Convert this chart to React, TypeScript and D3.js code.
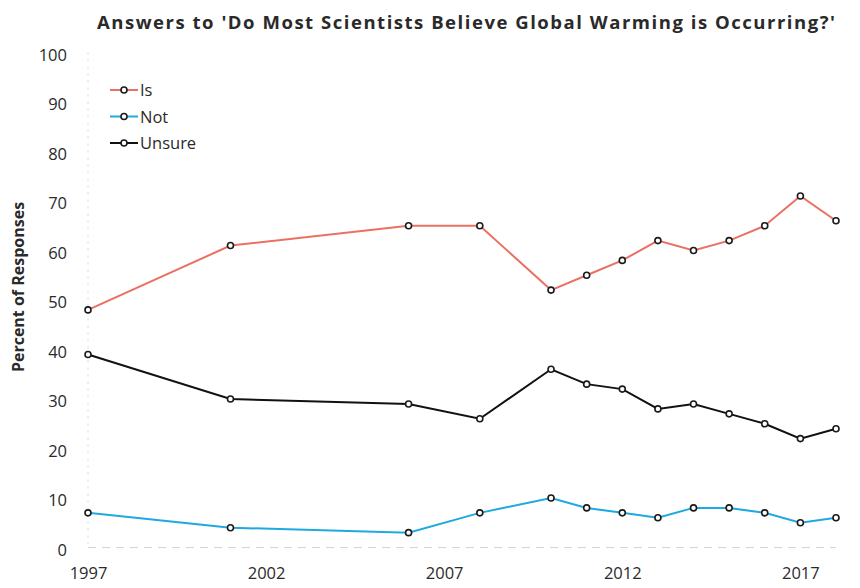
import React, { useEffect, useRef } from 'react';
import * as d3 from 'd3';

const years = [1997, 2001, 2006, 2008, 2010, 2011, 2012, 2013, 2014, 2015, 2016, 2017, 2018];
const isValues = [48, 61, 65, 65, 52, 55, 58, 62, 60, 62, 65, 71, 66];
const notValues = [7, 4, 3, 7, 10, 8, 7, 6, 8, 8, 7, 5, 6];
const unsureValues = [39, 30, 29, 26, 36, 33, 32, 28, 29, 27, 25, 22, 24];
const xTicks = [1997, 2002, 2007, 2012, 2017];
const yTicks = [0, 10, 20, 30, 40, 50, 60, 70, 80, 90, 100];

const series = [
  { name: 'Is', values: isValues, color: '#ea7062' },
  { name: 'Not', values: notValues, color: '#1ea9e1' },
  { name: 'Unsure', values: unsureValues, color: '#111111' },
];

const W = 860;
const H = 588;
const FONT = '"Open Sans", Lato, sans-serif';

export default function App() {
  const ref = useRef<SVGSVGElement>(null);

  useEffect(() => {
    const svg = d3.select(ref.current);
    svg.selectAll('*').remove();

    const x = d3.scaleLinear().domain([1997, 2018]).range([88, 836]);
    const y = d3.scaleLinear().domain([0, 100]).range([547.5, 52.5]);

    svg.append('rect').attr('width', W).attr('height', H).attr('fill', '#fff');

    // title
    svg.append('text')
      .attr('x', 466).attr('y', 29)
      .attr('text-anchor', 'middle')
      .attr('font-family', FONT).attr('font-weight', 700).attr('font-size', 18.5)
      .attr('fill', '#2a2a2a')
      .attr('textLength', 738).attr('lengthAdjust', 'spacing')
      .text("Answers to 'Do Most Scientists Believe Global Warming is Occurring?'");

    // faint axis lines (scanned look)
    svg.append('line')
      .attr('x1', x(1997)).attr('x2', x(1997))
      .attr('y1', y(100)).attr('y2', y(0))
      .attr('stroke', '#c4dcea').attr('stroke-width', 1)
      .attr('stroke-dasharray', '2 5');
    svg.append('line')
      .attr('x1', x(1997)).attr('x2', x(2018))
      .attr('y1', y(0)).attr('y2', y(0))
      .attr('stroke', '#d4d4d4').attr('stroke-width', 1.2)
      .attr('stroke-dasharray', '8 6');

    // y axis
    const yAxis = svg.append('g')
      .attr('transform', 'translate(67,2.5)')
      .call(d3.axisLeft(y).tickValues(yTicks).tickSize(0).tickPadding(0));
    yAxis.select('.domain').remove();
    yAxis.selectAll('text')
      .attr('font-family', FONT).attr('font-size', 16.5).attr('fill', '#2a2a2a');

    // x axis
    const xAxis = svg.append('g')
      .attr('transform', `translate(0,${y(0) + 20})`)
      .call(d3.axisBottom(x).tickValues(xTicks).tickFormat(d3.format('d')).tickSize(0).tickPadding(0));
    xAxis.select('.domain').remove();
    xAxis.selectAll('text')
      .attr('font-family', FONT).attr('font-size', 16.5).attr('fill', '#2a2a2a');

    // y label
    svg.append('text')
      .attr('transform', 'translate(24,287) rotate(-90)')
      .attr('text-anchor', 'middle')
      .attr('font-family', FONT).attr('font-weight', 700).attr('font-size', 16)
      .attr('fill', '#2a2a2a')
      .text('Percent of Responses');

    const line = d3.line<number>()
      .x((_, i) => x(years[i]))
      .y((d) => y(d));

    series.forEach((s) => {
      svg.append('path')
        .attr('d', line(s.values))
        .attr('fill', 'none')
        .attr('stroke', s.color)
        .attr('stroke-width', 2);
      svg.append('g').selectAll('circle')
        .data(s.values)
        .join('circle')
        .attr('cx', (_, i) => x(years[i]))
        .attr('cy', (d) => y(d))
        .attr('r', 3)
        .attr('fill', '#fff')
        .attr('stroke', '#1a1a1a')
        .attr('stroke-width', 1.6);
    });

    // legend
    const legend = svg.append('g').attr('transform', 'translate(110,90)');
    series.forEach((s, i) => {
      const g = legend.append('g').attr('transform', `translate(0,${i * 26.5})`);
      g.append('line').attr('x1', 0).attr('x2', 28).attr('y1', 0).attr('y2', 0)
        .attr('stroke', s.color).attr('stroke-width', 2);
      g.append('circle').attr('cx', 14).attr('cy', 0).attr('r', 3)
        .attr('fill', '#fff').attr('stroke', '#1a1a1a').attr('stroke-width', 1.6);
      g.append('text').attr('x', 30).attr('y', 6)
        .attr('font-family', FONT).attr('font-size', 16.5).attr('fill', '#2a2a2a')
        .text(s.name);
    });
  }, []);

  return (
    <svg
      ref={ref}
      width={W}
      height={H}
      style={{ position: 'absolute', left: 0, top: 0 }}
    />
  );
}
